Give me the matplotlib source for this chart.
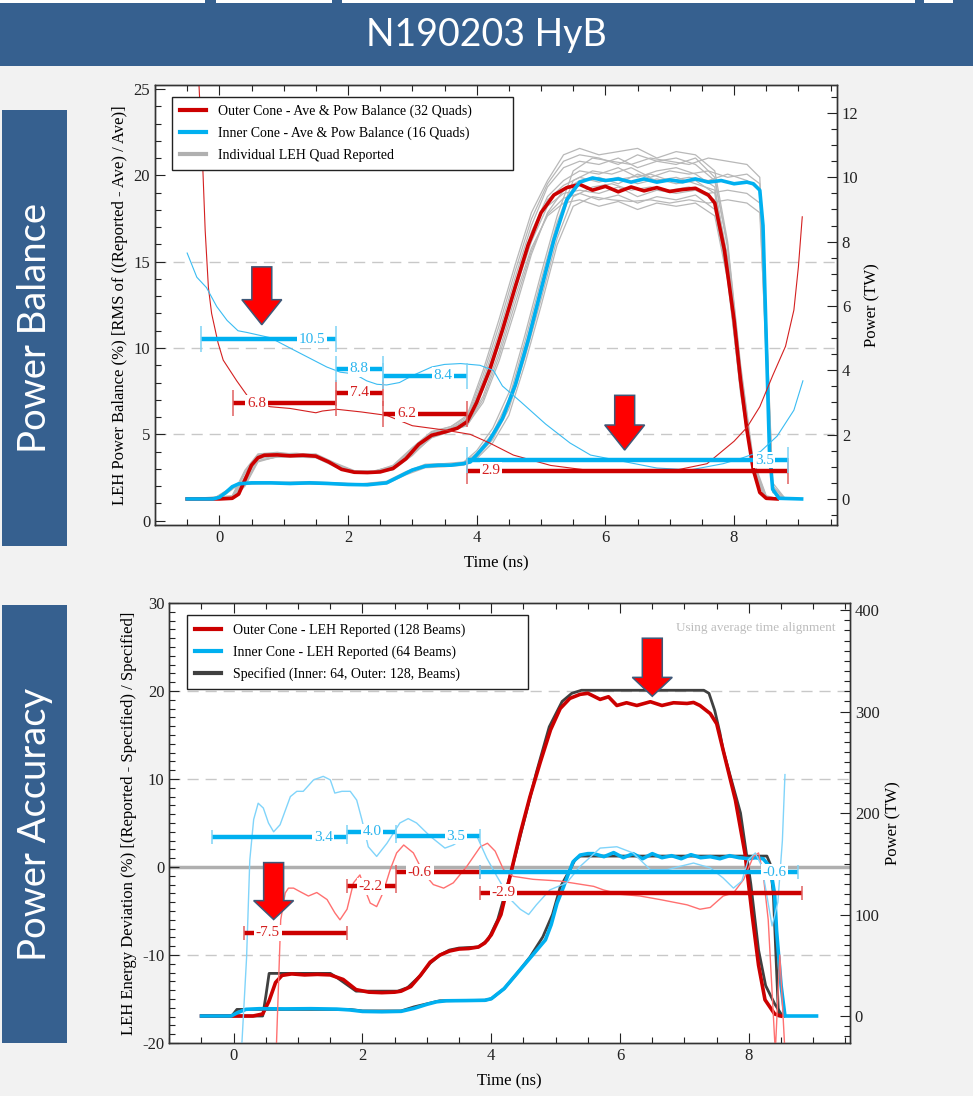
import matplotlib
matplotlib.use('Agg')
import matplotlib.pyplot as plt
import matplotlib.transforms as mtransforms
from matplotlib.patches import Rectangle, FancyArrow
from matplotlib.lines import Line2D
from matplotlib.ticker import MultipleLocator

plt.rcParams['font.family'] = 'serif'
plt.rcParams['font.serif'] = ['Liberation Serif', 'DejaVu Serif']
plt.rcParams['axes.unicode_minus'] = False

# ---------------- Power Balance panel (top) ----------------
# average power, outer cone (TW)
t_out = [-0.5, 0.0, 0.2, 0.3, 0.4, 0.5, 0.6, 0.7, 0.9, 1.1, 1.3, 1.5, 1.7, 1.9, 2.1, 2.3, 2.5, 2.7,
         2.9, 3.1, 3.3, 3.5, 3.7, 3.85, 4.0, 4.2, 4.4, 4.6, 4.8, 5.0, 5.2, 5.4, 5.6, 5.8, 6.0, 6.2,
         6.4, 6.6, 6.8, 7.0, 7.2, 7.4, 7.6, 7.7, 7.85, 8.0, 8.1, 8.2, 8.3, 8.4, 8.5, 8.67]
p_out = [0, 0, 0.02, 0.15, 0.6, 1.05, 1.28, 1.36, 1.37, 1.34, 1.36, 1.33, 1.15, 0.92, 0.83, 0.82,
         0.84, 0.95, 1.25, 1.7, 1.98, 2.08, 2.2, 2.4, 3.0, 4.0, 5.25, 6.6, 7.9, 8.9, 9.45, 9.68,
         9.78, 9.6, 9.72, 9.55, 9.7, 9.58, 9.68, 9.56, 9.62, 9.66, 9.45, 9.2, 7.74, 5.56, 3.7, 2.14,
         0.9, 0.2, 0.02, 0]
# average power, inner cone (TW)
t_in = [-0.5, -0.1, 0.0, 0.1, 0.2, 0.3, 0.5, 0.8, 1.1, 1.4, 1.7, 2.0, 2.3, 2.6, 2.8, 3.0, 3.2, 3.4,
        3.6, 3.8, 3.9, 4.0, 4.2, 4.4, 4.6, 4.8, 5.0, 5.2, 5.4, 5.6, 5.8, 6.0, 6.2, 6.4, 6.6, 6.8,
        7.0, 7.2, 7.4, 7.6, 7.8, 8.0, 8.2, 8.3, 8.4, 8.45, 8.5, 8.55, 8.6, 8.7, 9.05]
p_in = [0, 0, 0.05, 0.2, 0.38, 0.47, 0.5, 0.5, 0.48, 0.5, 0.48, 0.45, 0.44, 0.5, 0.7, 0.9, 1.02,
        1.05, 1.05, 1.1, 1.15, 1.37, 1.83, 2.5, 3.54, 4.94, 6.5, 8.05, 9.3, 9.85, 9.98, 9.9, 9.95,
        9.85, 9.95, 9.85, 9.92, 9.86, 9.95, 9.85, 9.9, 9.8, 9.85, 9.8, 9.6, 8.5, 5.0, 1.5, 0.3,
        0.02, 0]

# individual quads (TW)
t_q_out = [-0.5, 0.2, 0.4, 0.6, 0.9, 1.2, 1.5, 1.8, 2.1, 2.4, 2.7, 3.0, 3.3, 3.6, 3.85, 4.1, 4.35,
           4.6, 4.85, 5.1, 5.35, 5.6, 5.9, 6.2, 6.5, 6.8, 7.1, 7.4, 7.7, 7.9, 8.1, 8.3, 8.5, 8.7]
quads_out = [
    [0, 0.05, 0.8, 1.35, 1.42, 1.4, 1.38, 1.1, 0.85, 0.86, 1.0, 1.55, 2.05, 2.2, 2.5, 3.7, 5.2, 6.9,
     8.5, 9.7, 10.3, 10.5, 10.4, 10.6, 10.3, 10.5, 10.4, 10.6, 10.0, 7.8, 4.0, 1.0, 0.05, 0],
    [0, 0.0, 0.5, 1.2, 1.3, 1.3, 1.28, 1.0, 0.8, 0.8, 0.92, 1.4, 1.9, 2.1, 2.3, 3.2, 4.6, 6.3, 7.8,
     8.8, 9.2, 9.3, 9.1, 9.25, 9.0, 9.2, 9.1, 9.2, 8.8, 6.8, 3.4, 0.8, 0.0, 0],
    [0, 0.1, 0.9, 1.4, 1.45, 1.38, 1.4, 1.12, 0.88, 0.85, 1.05, 1.6, 2.1, 2.25, 2.6, 4.0, 5.6, 7.3,
     8.9, 9.9, 10.7, 10.9, 10.7, 10.8, 10.9, 10.6, 10.8, 10.7, 10.2, 8.0, 4.2, 1.2, 0.1, 0],
    [0, 0.0, 0.4, 1.15, 1.32, 1.36, 1.3, 1.08, 0.82, 0.82, 0.9, 1.35, 1.95, 2.15, 2.3, 3.0, 4.3, 5.9,
     7.6, 8.9, 9.6, 9.9, 10.0, 9.8, 10.1, 9.9, 10.0, 9.8, 9.6, 7.5, 3.9, 1.0, 0.05, 0],
    [0, 0.05, 0.7, 1.3, 1.4, 1.33, 1.35, 1.02, 0.86, 0.84, 0.98, 1.5, 2.0, 2.2, 2.45, 3.6, 5.0, 6.7,
     8.3, 9.4, 9.9, 10.2, 10.1, 10.3, 10.0, 10.2, 10.3, 10.1, 9.7, 7.4, 3.6, 0.9, 0.03, 0],
    [0, 0.02, 0.6, 1.25, 1.33, 1.37, 1.31, 1.06, 0.84, 0.85, 0.95, 1.45, 1.95, 2.15, 2.35, 3.4, 4.8,
     6.5, 8.0, 9.1, 9.5, 9.6, 9.5, 9.7, 9.4, 9.6, 9.5, 9.6, 9.3, 7.0, 3.3, 0.8, 0.02, 0],
    [0, 0.08, 0.85, 1.38, 1.4, 1.42, 1.36, 1.08, 0.87, 0.87, 1.02, 1.58, 2.08, 2.25, 2.55, 3.85,
     5.4, 7.1, 8.7, 9.8, 10.5, 10.7, 10.6, 10.4, 10.7, 10.5, 10.6, 10.4, 9.9, 7.9, 4.1, 1.1, 0.08, 0],
    [0, 0.01, 0.45, 1.18, 1.31, 1.33, 1.29, 1.04, 0.81, 0.83, 0.93, 1.38, 1.92, 2.12, 2.28, 3.1,
     4.45, 6.1, 7.7, 8.85, 9.35, 9.5, 9.3, 9.45, 9.2, 9.4, 9.3, 9.45, 9.0, 6.9, 3.5, 0.85, 0.01, 0],
    [0, 0.04, 0.65, 1.28, 1.36, 1.35, 1.34, 1.05, 0.85, 0.84, 0.97, 1.48, 1.98, 2.18, 2.4, 3.5,
     4.9, 6.6, 8.2, 9.3, 9.75, 10.0, 9.85, 10.0, 9.8, 9.95, 9.8, 9.9, 9.5, 7.2, 3.5, 0.85, 0.02, 0],
]
t_q_in = [-0.5, -0.1, 0.1, 0.3, 0.6, 1.0, 1.4, 1.8, 2.2, 2.6, 2.9, 3.2, 3.5, 3.8, 4.0, 4.25, 4.5,
          4.75, 5.0, 5.25, 5.5, 5.8, 6.1, 6.4, 6.7, 7.0, 7.3, 7.6, 7.9, 8.2, 8.4, 8.5, 8.6, 8.8]
quads_in = [
    [0, 0, 0.25, 0.5, 0.53, 0.52, 0.54, 0.5, 0.47, 0.55, 0.85, 1.08, 1.1, 1.15, 1.5, 2.2, 3.3, 5.1,
     7.0, 8.8, 10.2, 10.6, 10.5, 10.4, 10.6, 10.5, 10.4, 10.6, 10.5, 10.4, 10.0, 5.5, 0.4, 0],
    [0, 0, 0.15, 0.44, 0.47, 0.48, 0.46, 0.45, 0.43, 0.47, 0.75, 0.97, 1.0, 1.05, 1.25, 1.75, 2.6,
     4.2, 6.0, 7.9, 9.1, 9.4, 9.3, 9.25, 9.3, 9.2, 9.3, 9.2, 9.3, 9.2, 8.9, 4.6, 0.25, 0],
    [0, 0, 0.22, 0.49, 0.52, 0.5, 0.51, 0.49, 0.46, 0.52, 0.82, 1.05, 1.07, 1.12, 1.42, 2.05, 3.1,
     4.9, 6.8, 8.6, 9.9, 10.2, 10.1, 10.3, 10.0, 10.2, 10.1, 10.2, 10.0, 10.1, 9.8, 5.6, 0.5, 0],
    [0, 0, 0.18, 0.46, 0.49, 0.49, 0.48, 0.47, 0.44, 0.49, 0.78, 1.0, 1.03, 1.08, 1.3, 1.85, 2.8,
     4.4, 6.2, 8.1, 9.4, 9.7, 9.8, 9.6, 9.7, 9.6, 9.7, 9.5, 9.6, 9.5, 9.2, 4.3, 0.2, 0],
    [0, 0, 0.2, 0.48, 0.51, 0.51, 0.5, 0.48, 0.45, 0.5, 0.8, 1.03, 1.05, 1.1, 1.38, 1.95, 2.95,
     4.7, 6.6, 8.4, 9.7, 10.0, 9.9, 10.0, 10.1, 9.9, 10.0, 9.9, 10.1, 9.9, 9.6, 5.2, 0.35, 0],
]

# power balance (%)
t_bal_out = [-0.36, -0.32, -0.27, -0.22, -0.17, -0.12, -0.02, 0.06, 0.27, 0.48, 0.79, 1.1, 1.5,
             1.6, 1.83, 2.2, 2.6, 3.0, 3.5, 3.9, 4.2, 4.57, 5.15, 5.77, 6.4, 7.06, 7.58, 8.0, 8.2,
             8.4, 8.6, 8.8, 8.93, 9.0, 9.06]
bal_out = [28.0, 25.5, 21.7, 16.8, 13.5, 12.0, 10.3, 9.3, 8.1, 7.0, 6.6, 6.5, 6.25, 6.35, 6.45,
           6.3, 6.1, 5.5, 5.25, 5.0, 4.5, 3.8, 3.2, 2.9, 2.85, 2.9, 3.3, 4.6, 5.4, 6.6, 8.4, 10.1,
           12.2, 14.7, 17.6]
t_bal_in = [-0.5, -0.35, -0.2, -0.04, 0.12, 0.29, 0.43, 0.79, 1.15, 1.41, 1.67, 1.88, 2.1, 2.29,
            2.45, 2.6, 2.8, 3.0, 3.3, 3.5, 3.75, 4.05, 4.26, 4.4, 4.68, 5.07, 5.45, 5.77, 6.28, 6.8,
            7.32, 7.83, 8.1, 8.41, 8.67, 8.93, 9.07]
bal_in = [15.5, 14.1, 13.5, 12.4, 11.6, 11.0, 10.9, 10.6, 9.9, 9.4, 8.9, 8.6, 8.5, 8.1, 7.9, 7.86,
          8.0, 8.4, 8.9, 9.05, 9.1, 9.0, 8.7, 7.8, 6.9, 5.6, 4.5, 3.8, 3.43, 3.05, 2.94, 3.3, 3.6,
          4.0, 4.9, 6.4, 8.1]

# window averages (%)
win_bal_in_start = [-0.29, 1.81, 2.54, 3.85]
win_bal_in_end = [1.81, 2.54, 3.85, 8.84]
win_bal_in = [10.5, 8.8, 8.4, 3.5]
win_bal_out_start = [0.21, 1.81, 2.54, 3.85]
win_bal_out_end = [1.81, 2.54, 3.85, 8.84]
win_bal_out = [6.8, 7.4, 6.2, 2.9]

arrow_bal_t = [0.66, 6.3]
arrow_bal_top = [14.7, 7.26]
arrow_bal_tip = [11.35, 4.09]

# ---------------- Power Accuracy panel (bottom) ----------------
t_rep_out = [-0.5, 0.3, 0.45, 0.55, 0.65, 0.75, 0.9, 1.1, 1.3, 1.5, 1.7, 1.9, 2.1, 2.3, 2.5, 2.6,
             2.75, 2.9, 3.05, 3.2, 3.35, 3.5, 3.65, 3.8, 3.9, 4.0, 4.15, 4.3, 4.45, 4.6, 4.76, 4.92,
             5.07, 5.22, 5.38, 5.5, 5.69, 5.82, 5.95, 6.1, 6.26, 6.47, 6.65, 6.83, 7.04, 7.14, 7.24,
             7.4, 7.5, 7.6, 7.79, 7.94, 8.05, 8.15, 8.25, 8.4, 8.5]
rep_out = [0, 0, 2, 15, 33, 40, 41.5, 40.5, 41, 40.5, 36, 26, 23.5, 23, 23.5, 24.5, 29, 40, 53, 60,
           64, 66, 66.5, 68, 72, 80, 100, 140, 180, 216, 250, 282, 303, 313, 317, 318, 312, 314.6,
           306, 308.7, 306, 309.7, 306, 308.7, 308, 309, 306, 298, 288, 262, 213, 160, 100, 50, 16,
           2, 0]
t_rep_in = [-0.5, -0.04, 0.05, 0.19, 0.4, 0.8, 1.2, 1.6, 1.8, 2.0, 2.3, 2.6, 2.8, 3.0, 3.15, 3.3,
            3.6, 3.9, 4.0, 4.2, 4.4, 4.6, 4.84, 4.93, 5.02, 5.12, 5.2, 5.27, 5.38, 5.5, 5.59, 5.75,
            5.9, 6.05, 6.2, 6.35, 6.5, 6.65, 6.8, 6.95, 7.1, 7.25, 7.4, 7.55, 7.7, 7.85, 8.0, 8.1,
            8.22, 8.33, 8.4, 8.43, 8.5, 8.56, 8.7, 9.05]
rep_in = [0, 0, 3, 6.6, 7.2, 7.0, 7.2, 6.8, 6.0, 4.5, 4.2, 4.6, 7.5, 11.5, 14, 15, 15.2, 15.5, 17,
          27, 42, 57, 75, 90, 111, 127, 140.6, 152, 158.6, 160, 160, 157, 161, 156, 160, 155, 160,
          156, 158, 155, 159, 156, 157, 155, 158, 156, 155, 156, 155, 147, 120, 84, 30, 0, 0, 0]
t_spec_out = [-0.5, 0.45, 0.5, 0.55, 1.5, 1.6, 1.9, 2.55, 2.7, 2.9, 3.05, 3.2, 3.35, 3.5, 3.8,
              3.95, 4.1, 4.3, 4.5, 4.7, 4.9, 5.1, 5.25, 5.4, 7.3, 7.38, 7.47, 7.55, 7.6, 7.87,
              8.03, 8.15, 8.26, 8.4, 8.5, 8.55]
spec_out = [0, 0, 20, 42, 42, 38, 24.5, 24.5, 28, 40, 52, 60, 65, 67, 68, 75, 95, 140, 190, 240,
            285, 310, 318, 321, 321, 318, 301, 279, 262, 200, 130, 65, 30, 12, 2, 0]
t_spec_in = [-0.5, -0.03, 0.05, 1.8, 2.0, 2.6, 2.8, 3.2, 3.9, 4.0, 4.2, 4.4, 4.6, 4.8, 4.95, 5.07,
             5.22, 5.3, 5.38, 8.28, 8.33, 8.38, 8.42, 8.46, 8.5]
spec_in = [0, 0, 6.5, 6.5, 5, 5, 9, 15, 15.5, 17, 27, 42, 58, 78, 100, 127, 144, 154, 157.6,
           157.6, 150, 120, 60, 0, 0]

# energy deviation (%)
t_dev_in = [0.12, 0.2, 0.25, 0.31, 0.38, 0.46, 0.54, 0.62, 0.72, 0.88, 0.98, 1.08, 1.24, 1.39, 1.5,
            1.57, 1.68, 1.81, 1.91, 1.99, 2.09, 2.22, 2.38, 2.58, 2.71, 2.84, 3.05, 3.28, 3.41,
            3.62, 3.77, 3.93, 4.09, 4.3, 4.45, 4.58, 4.7, 4.91, 5.17, 5.38, 5.69, 5.95, 6.2, 6.47,
            6.73, 6.93, 7.14, 7.4, 7.6, 7.76, 7.89, 7.99, 8.1, 8.2, 8.28, 8.36, 8.45, 8.52, 8.56]
dev_in = [-21, -10.3, 0.8, 5.4, 7.25, 6.7, 5.0, 4.0, 4.8, 8.0, 8.6, 8.6, 9.9, 10.3, 9.9, 8.4, 8.6,
          8.6, 7.6, 5.4, 2.3, 1.2, 2.7, 5.0, 5.5, 5.0, 3.5, 2.15, 2.5, 3.5, 3.6, 1.0, -1.1, -3.7,
          -4.8, -5.4, -4.3, -2.6, -1.8, 0.07, 2.15, 2.3, 1.6, -0.3, -0.3, 0.07, 0.45, -0.1, -1.25,
          -2.4, -1.6, 0.8, 1.6, 0.07, -3.3, -6.7, -4.0, 3.0, 10.5]
t_dev_out = [0.66, 0.73, 0.8, 0.85, 0.93, 1.03, 1.16, 1.29, 1.45, 1.57, 1.65, 1.76, 1.86, 1.96,
             2.04, 2.12, 2.22, 2.32, 2.43, 2.53, 2.64, 2.79, 2.95, 3.1, 3.26, 3.41, 3.62, 3.83,
             3.94, 4.06, 4.19, 4.34, 4.65, 5.07, 5.59, 5.74, 6.0, 6.31, 6.62, 7.04, 7.24, 7.4, 7.6,
             7.76, 7.92, 8.07, 8.15, 8.22, 8.3, 8.41, 8.48, 8.56]
dev_out = [-21, -6.0, -2.95, -2.4, -2.4, -2.8, -3.3, -2.9, -3.7, -5.2, -6.0, -4.8, -1.8, -0.9,
           -2.6, -4.1, -4.5, -2.9, -0.3, 1.6, 2.5, 1.6, -0.7, -2.0, -2.4, -1.8, 0.07, 2.3, 2.7,
           1.8, -0.3, -1.06, -1.4, -1.6, -2.2, -2.6, -3.1, -3.3, -3.7, -4.3, -4.8, -4.6, -3.3,
           -2.95, -1.4, 1.2, 1.6, -0.7, -6.0, -21, -10, -21]

win_acc_in_start = [-0.33, 1.76, 2.52, 3.82]
win_acc_in_end = [1.76, 2.52, 3.82, 8.77]
win_acc_in = [3.4, 4.0, 3.5, -0.6]
win_acc_out_start = [0.16, 1.76, 2.52, 3.82]
win_acc_out_end = [1.76, 2.52, 3.82, 8.82]
win_acc_out = [-7.5, -2.2, -0.6, -2.9]

arrow_acc_t = [0.62, 6.5]
arrow_acc_top = [0.5, 26.0]
arrow_acc_tip = [-5.97, 19.4]

grid_bal = [5, 10, 15]
grid_acc = [20, 10, -10]

RED = '#CC0000'
BLUE = '#00B0F0'
GRAY = '#B8B8B8'
DARK = '#404040'
BANNER = '#36608F'

W, H = 973, 1096
fig = plt.figure(figsize=(W / 100, H / 100), dpi=100, facecolor='#F2F2F2')

# banner and side tabs
fig.add_artist(Rectangle((0, 1 - 66 / H), 1, 66 / H, transform=fig.transFigure,
                         fc=BANNER, ec='none'))
for x0, x1 in [(0, 205), (216, 332), (342, 915), (924, 953)]:
    fig.add_artist(Rectangle((x0 / W, 1 - 3 / H), (x1 - x0) / W, 3 / H,
                             transform=fig.transFigure, fc='white', ec='none'))
fig.text(0.5, 1 - 35 / H, 'N190203 HyB', color='white', fontsize=27, family='Lato',
         ha='center', va='center')
for y0, y1, txt in [(110, 546, 'Power Balance'), (605, 1043, 'Power Accuracy')]:
    fig.add_artist(Rectangle((2 / W, 1 - y1 / H), 65 / W, (y1 - y0) / H,
                             transform=fig.transFigure, fc=BANNER, ec='none'))
    fig.text(35 / W, 1 - (y0 + y1) / 2 / H, txt, color='white', fontsize=27.5, family='Lato',
             rotation=90, ha='center', va='center')


def style(ax, ax2, xmaj, ymaj, ymin, y2maj, y2min):
    ax.set_zorder(3)
    ax2.set_zorder(2)
    ax.patch.set_visible(False)
    ax2.patch.set_visible(True)
    ax2.patch.set_facecolor('white')
    ax.xaxis.set_major_locator(MultipleLocator(xmaj))
    ax.xaxis.set_minor_locator(MultipleLocator(0.5))
    ax.yaxis.set_major_locator(MultipleLocator(ymaj))
    ax.yaxis.set_minor_locator(MultipleLocator(ymin))
    ax2.yaxis.set_major_locator(MultipleLocator(y2maj))
    ax2.yaxis.set_minor_locator(MultipleLocator(y2min))
    ax.tick_params(which='both', direction='in', top=True, right=False, labelsize=12,
                   width=0.8, colors='#222222')
    ax.tick_params(which='major', length=7)
    ax.tick_params(which='minor', length=4)
    ax2.tick_params(which='both', direction='in', right=True, labelsize=12, width=0.8,
                    colors='#222222')
    ax2.tick_params(which='major', length=7)
    ax2.tick_params(which='minor', length=4)
    for a in (ax, ax2):
        for sp in a.spines.values():
            sp.set_color('#333333')
            sp.set_linewidth(1)
    ax.set_xlabel('Time (ns)', fontsize=12, labelpad=7)
    ax2.set_ylabel('Power (TW)', fontsize=12)


def windows(ax, starts, ends, vals, color, tick_color, text_color, side, tick_ms):
    for s, e, v in zip(starts, ends, vals):
        ax.plot([s, e], [v, v], color=color, lw=3.2, solid_capstyle='butt', zorder=5)
        ax.plot([s, e], [v, v], ls='none', marker='|', ms=tick_ms, mew=1.1,
                color=tick_color, zorder=5)
        off = min(0.37, (e - s) / 2)
        lx = s + off if side == 'left' else e - off
        ax.text(lx, v, f'{v:.1f}', color=text_color, fontsize=11, ha='center', va='center',
                zorder=6, bbox=dict(fc='white', ec='none', pad=1.2))


def arrows(ax, ts, tops, tips, head_len):
    for t, y0, y1 in zip(ts, tops, tips):
        ax.add_patch(FancyArrow(t, y0, 0, y1 - y0, width=0.31, head_width=0.62,
                                head_length=head_len, length_includes_head=True,
                                fc='#FF0000', ec='#3E5878', lw=1.1, zorder=10))


def hlines(ax, ax2, vals, **kw):
    tr = mtransforms.blended_transform_factory(ax2.transAxes, ax.transData)
    for v in vals:
        ax2.plot([0, 1], [v, v], transform=tr, zorder=0.5, **kw)


def legend(ax, handles, labels, x0, y1, w):
    leg = ax.legend(handles=handles, labels=labels, loc='upper left', mode='expand',
                    bbox_to_anchor=(x0, y1 - 0.2, w, 0.2), borderaxespad=0,
                    fontsize=10, handlelength=1.9, labelspacing=0.6, fancybox=False,
                    framealpha=1, edgecolor='#222222', borderpad=0.6)
    leg.get_frame().set_linewidth(1)
    leg.set_zorder(20)


# ---------- top panel ----------
ax = fig.add_axes([155 / W, 1 - 525 / H, 682 / W, 440.3 / H])
ax2 = ax.twinx()
ax.set_xlim(-1.0, 9.6)
ax.set_ylim(-0.25, 25.25)
ax2.set_ylim(-0.81, 12.88)
style(ax, ax2, 2, 5, 1, 2, 0.5)
ax.set_ylabel('LEH Power Balance (%) [RMS of ((Reported - Ave) / Ave)]', fontsize=12)
hlines(ax, ax2, grid_bal, color='#C8C8C8', lw=1, ls=(0, (8, 5)))

for q in quads_out:
    ax2.plot(t_q_out, q, color=GRAY, lw=0.9, zorder=1)
for q in quads_in:
    ax2.plot(t_q_in, q, color=GRAY, lw=0.9, zorder=1)
ax2.plot(t_out, p_out, color=RED, lw=2.6, zorder=3)
ax2.plot(t_in, p_in, color=BLUE, lw=2.6, zorder=4)

ax.plot(t_bal_out, bal_out, color='#D42020', lw=0.8, zorder=2)
ax.plot(t_bal_in, bal_in, color='#3ABCF2', lw=0.8, zorder=2)
windows(ax, win_bal_out_start, win_bal_out_end, win_bal_out, RED, '#E06060', '#D42020',
        'left', 19)
windows(ax, win_bal_in_start, win_bal_in_end, win_bal_in, BLUE, '#7FD3F5', '#2BB5EE',
        'right', 19)
arrows(ax, arrow_bal_t, arrow_bal_top, arrow_bal_tip, 1.45)

legend(ax, [Line2D([], [], color=RED, lw=3), Line2D([], [], color=BLUE, lw=3),
            Line2D([], [], color='#B0B0B0', lw=3)],
       ['Outer Cone - Ave & Pow Balance (32 Quads)',
        'Inner Cone - Ave & Pow Balance (16 Quads)',
        'Individual LEH Quad Reported'], 0.0245, 0.973, 0.5)

# ---------- bottom panel ----------
bx = fig.add_axes([169.3 / W, 1 - 1043 / H, 680.7 / W, 440 / H])
bx2 = bx.twinx()
bx.set_xlim(-1.0, 9.57)
bx.set_ylim(-20, 30)
bx2.set_ylim(-26.6, 407)
style(bx, bx2, 2, 10, 1, 100, 10)
bx.set_ylabel('LEH Energy Deviation (%) [(Reported - Specified) / Specified]', fontsize=12)
hlines(bx, bx2, grid_acc, color='#C8C8C8', lw=1, ls=(0, (8, 5)))
hlines(bx, bx2, [0], color='#AFAFAF', lw=2.5)

bx2.plot(t_spec_out, spec_out, color=DARK, lw=2, zorder=2)
bx2.plot(t_spec_in, spec_in, color=DARK, lw=2, zorder=2)
bx2.plot(t_rep_out, rep_out, color=RED, lw=2.6, zorder=3)
bx2.plot(t_rep_in, rep_in, color=BLUE, lw=2.6, zorder=4)

bx.plot(t_dev_out, dev_out, color='#FF7070', lw=1, zorder=2)
bx.plot(t_dev_in, dev_in, color='#80D4FA', lw=1, zorder=2)
windows(bx, win_acc_out_start, win_acc_out_end, win_acc_out, RED, '#E06060', '#D42020',
        'left', 10)
windows(bx, win_acc_in_start, win_acc_in_end, win_acc_in, BLUE, '#7FD3F5', '#2BB5EE',
        'right', 10)
arrows(bx, arrow_acc_t, arrow_acc_top, arrow_acc_tip, 2.15)

bx.text(0.978, 0.943, 'Using average time alignment', transform=bx.transAxes, ha='right',
        va='center', fontsize=9.5, color='#BDBDBD')

legend(bx, [Line2D([], [], color=RED, lw=3), Line2D([], [], color=BLUE, lw=3),
            Line2D([], [], color=DARK, lw=3)],
       ['Outer Cone - LEH Reported (128 Beams)',
        'Inner Cone - LEH Reported (64 Beams)',
        'Specified (Inner: 64, Outer: 128, Beams)'], 0.0256, 0.9727, 0.501)

fig.savefig('out.png', dpi=100, facecolor=fig.get_facecolor())
